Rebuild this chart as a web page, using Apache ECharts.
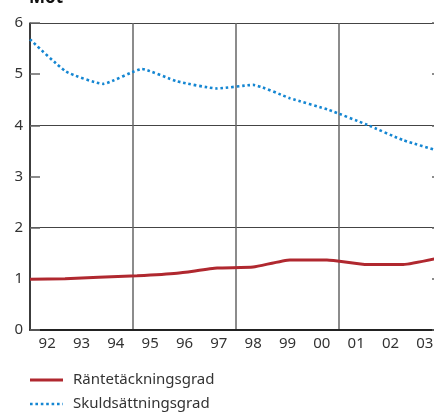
<!DOCTYPE html>
<html>
<head>
<meta charset="utf-8">
<script src="https://cdn.jsdelivr.net/npm/echarts@6/dist/echarts.min.js"></script>
<style>
  html, body { margin: 0; padding: 0; background: #fff; }
  #chart { width: 434px; height: 412px; }
</style>
</head>
<body>
<div id="chart"></div>
<script>
// år (kategorier på x-axeln)
var years = ['92', '93', '94', '95', '96', '97', '98', '99', '00', '01', '02', '03'];
// läge på x-axeln (0 = början av 92, 12 = slutet av 03) och värde
var ranteX = [0, 1.02, 2.0, 3.12, 4.28, 5.45, 6.5, 7.57, 8.65, 9.82, 10.87, 12];
var ranteY = [0.99, 1.0, 1.03, 1.06, 1.11, 1.21, 1.23, 1.37, 1.37, 1.28, 1.28, 1.42];
var skuldX = [0, 1.05, 2.13, 3.26, 4.28, 5.45, 6.5, 7.57, 8.71, 9.82, 10.87, 12];
var skuldY = [5.68, 5.05, 4.81, 5.10, 4.86, 4.72, 4.79, 4.53, 4.30, 4.01, 3.71, 3.48];
var names = ['Räntetäckningsgrad', 'Skuldsättningsgrad'];
var colors = ['#b0282f', '#1486d2'];

var font = 'Noto Sans';

function pairs(xs, ys) {
  var out = [];
  for (var i = 0; i < xs.length; i++) out.push([xs[i], ys[i]]);
  return out;
}

var chart = echarts.init(document.getElementById('chart'));

// egen teckenförklaring (linje + text)
var legendItems = [
  {
    type: 'line', shape: { x1: 30, y1: 380, x2: 63, y2: 380 },
    style: { stroke: colors[0], lineWidth: 3 }
  },
  {
    type: 'text', x: 73, y: 380,
    style: { text: names[0], font: '15px "Noto Sans"', fill: '#333', textVerticalAlign: 'middle' }
  },
  {
    type: 'line', shape: { x1: 30, y1: 404, x2: 63, y2: 404 },
    style: { stroke: colors[1], lineWidth: 2.6, lineDash: [2.6, 2.8] }
  },
  {
    type: 'text', x: 73, y: 404,
    style: { text: names[1], font: '15px "Noto Sans"', fill: '#333', textVerticalAlign: 'middle' }
  }
];

var option = {
  animation: false,
  textStyle: { fontFamily: font },
  graphic: [{
    type: 'text',
    x: 29,
    y: 7,
    style: { text: 'Mot', font: 'bold 17px "Noto Sans"', fill: '#111', textVerticalAlign: 'bottom' }
  }].concat(legendItems),
  grid: { left: 30, top: 23, width: 412, height: 307, outerBoundsMode: 'none', containLabel: false },
  xAxis: [
    {
      type: 'category',
      data: years,
      boundaryGap: true,
      axisLine: { lineStyle: { color: '#222', width: 2 } },
      axisTick: { inside: true, length: 10, interval: 0, lineStyle: { color: '#555', width: 1.5 } },
      axisLabel: { interval: 0, margin: 6, fontSize: 15, color: '#333', fontFamily: font },
      splitLine: {
        show: true,
        interval: function (i) { return i % 3 === 0; },
        lineStyle: { color: '#666', width: 1.5 }
      }
    },
    { type: 'value', min: 0, max: 12, show: false }
  ],
  yAxis: [
    {
      type: 'value',
      min: 0,
      max: 6,
      interval: 1,
      axisLine: { show: true, lineStyle: { color: '#222', width: 1.5 } },
      axisTick: { show: true, inside: true, length: 10, lineStyle: { color: '#666', width: 1.5 } },
      axisLabel: { margin: 7, fontSize: 15, color: '#333', fontFamily: font },
      splitLine: { show: false }
    },
    {
      type: 'value',
      min: 0,
      max: 6,
      interval: 2,
      axisLine: { show: false },
      axisTick: { show: false },
      axisLabel: { show: false },
      splitLine: { show: true, lineStyle: { color: '#444', width: 1.2 } }
    },
    {
      type: 'value',
      position: 'right',
      min: 0,
      max: 6,
      interval: 1,
      axisLine: { show: false },
      axisTick: { show: true, inside: true, length: 10, lineStyle: { color: '#666', width: 1.5 } },
      axisLabel: { show: false },
      splitLine: { show: false }
    }
  ],
  series: [
    {
      name: names[0],
      type: 'line',
      xAxisIndex: 1,
      yAxisIndex: 0,
      symbol: 'none',
      smooth: 0.15,
      data: pairs(ranteX, ranteY),
      lineStyle: { color: colors[0], width: 3 }
    },
    {
      name: names[1],
      type: 'line',
      xAxisIndex: 1,
      yAxisIndex: 0,
      symbol: 'none',
      smooth: 0.15,
      data: pairs(skuldX, skuldY),
      lineStyle: { color: colors[1], width: 2.6, type: [2.6, 2.8] }
    }
  ]
};

chart.setOption(option);
</script>
</body>
</html>
